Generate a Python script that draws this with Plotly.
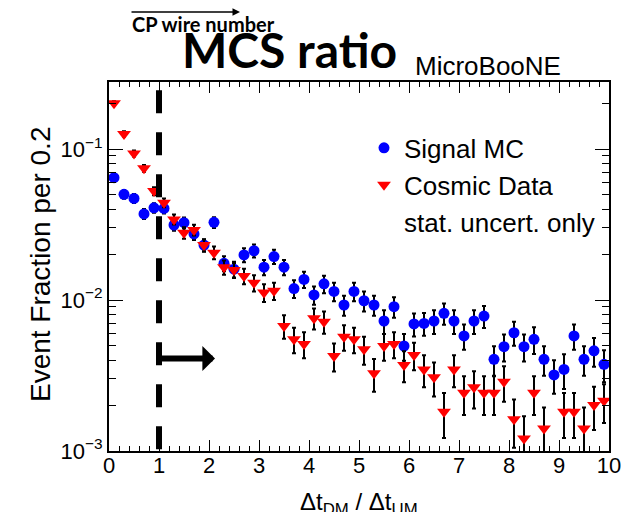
import math
import plotly.graph_objects as go

# ---------------- data ----------------
bin_centers = [0.1, 0.3, 0.5, 0.7, 0.9, 1.1, 1.3, 1.5, 1.7, 1.9,
               2.1, 2.3, 2.5, 2.7, 2.9, 3.1, 3.3, 3.5, 3.7, 3.9,
               4.1, 4.3, 4.5, 4.7, 4.9, 5.1, 5.3, 5.5, 5.7, 5.9,
               6.1, 6.3, 6.5, 6.7, 6.9, 7.1, 7.3, 7.5, 7.7, 7.9,
               8.1, 8.3, 8.5, 8.7, 8.9, 9.1, 9.3, 9.5, 9.7, 9.9]

signal_mc = [0.0646, 0.0501, 0.0471, 0.0372, 0.0408, 0.0404, 0.0314, 0.0325, 0.0274, 0.0231,
             0.0327, 0.0175, 0.0160, 0.0199, 0.0212, 0.0165, 0.0194, 0.0165, 0.0119, 0.0137,
             0.0108, 0.0128, 0.0114, 0.00927, 0.0114, 0.00989, 0.00927, 0.00726, 0.00904, 0.00496,
             0.00694, 0.00700, 0.00726, 0.00817, 0.00726, 0.00578, 0.00726, 0.00783, 0.00405, 0.00491,
             0.00607, 0.00491, 0.00549, 0.00405, 0.00319, 0.00347, 0.00578, 0.00405, 0.00461, 0.00375]
signal_err = [0.0037, 0.0033, 0.0032, 0.0028, 0.0030, 0.0030, 0.0026, 0.0027, 0.0024, 0.0022,
              0.0027, 0.0020, 0.0019, 0.0021, 0.0021, 0.0019, 0.0021, 0.0019, 0.0016, 0.0017,
              0.0015, 0.0017, 0.0016, 0.0014, 0.0016, 0.0015, 0.0014, 0.0013, 0.0014, 0.0010,
              0.0012, 0.0012, 0.0013, 0.0013, 0.0013, 0.0011, 0.0013, 0.0013, 0.0009, 0.0010,
              0.0011, 0.0010, 0.0011, 0.0009, 0.0008, 0.0009, 0.0011, 0.0009, 0.0010, 0.0009]

cosmic_data = [0.201, 0.126, 0.0935, 0.0745, 0.0527, 0.0441, 0.0342, 0.0279, 0.0291, 0.0231,
               0.0206, 0.0165, 0.0158, 0.0144, 0.0130, 0.0112, 0.0115, 0.00673, 0.00549, 0.00512,
               0.00757, 0.00718, 0.00426, 0.00571, 0.00549, 0.00472, 0.00327, 0.00496, 0.00512, 0.00371,
               0.00432, 0.00347, 0.00308, 0.00182, 0.00347, 0.00243, 0.00264, 0.00243, 0.00243, 0.00288,
               0.00162, 0.00121, 0.00243, 0.00141, None, 0.00182, 0.00182, 0.00141, 0.00202, 0.00215]
cosmic_err = [0.0063, 0.0050, 0.0043, 0.0039, 0.0032, 0.0030, 0.0026, 0.0024, 0.0024, 0.0021,
              0.0020, 0.0018, 0.0018, 0.0017, 0.0016, 0.0015, 0.0015, 0.0012, 0.00105, 0.0010,
              0.0012, 0.0012, 0.0009, 0.0011, 0.00105, 0.0010, 0.0008, 0.0010, 0.0010, 0.00086,
              0.0009, 0.00083, 0.00078, 0.0006, 0.00083, 0.0007, 0.00073, 0.0007, 0.0007, 0.00076,
              0.00057, 0.00049, 0.0007, 0.00053, 0.0, 0.0006, 0.0006, 0.00053, 0.00064, 0.00062]

x_ticks = [0, 1, 2, 3, 4, 5, 6, 7, 8, 9, 10]
x_minor = [round(0.2 * i, 1) for i in range(51)]
y_ticks = [1e-3, 1e-2, 1e-1]
y_ticktext = ["10<sup>\u22123</sup>", "10<sup>\u22122</sup>", "10<sup>\u22121</sup>"]
y_minor = [m * d for d in (1e-3, 1e-2, 1e-1) for m in range(2, 10) if m * d < 0.28]

cut_value = 1.0
arrow_y = 0.0041
arrow_end = 2.12

FONT = "Liberation Sans, Arial, Helvetica, sans-serif"

fig = go.Figure()

fig.add_trace(go.Scatter(
    x=bin_centers, y=signal_mc, mode="markers", name="Signal MC",
    legendgroup="a",
    marker=dict(symbol="circle", size=11, color="#0000ff"),
    error_y=dict(type="data", array=signal_err, symmetric=True,
                 color="black", thickness=2, width=2),
))
fig.add_trace(go.Scatter(
    x=bin_centers, y=cosmic_data, mode="markers", name="Cosmic Data",
    legendgroup="b",
    marker=dict(symbol="triangle-down", size=12, color="#ff0000"),
    error_y=dict(type="data", array=cosmic_err, symmetric=True,
                 color="black", thickness=2, width=2),
))
fig.add_trace(go.Scatter(
    x=[None], y=[None], mode="markers", name="stat. uncert. only",
    legendgroup="c",
    marker=dict(size=10, color="rgba(0,0,0,0)"),
))

# dashed cut line
fig.add_trace(go.Scatter(
    x=[cut_value, cut_value], y=[0.245, 1e-3], mode="lines", showlegend=False,
    line=dict(color="black", width=6, dash="23px,19px"), hoverinfo="skip",
))

fig.update_layout(
    width=633, height=512,
    margin=dict(l=109, r=24, t=82, b=61),
    paper_bgcolor="white", plot_bgcolor="white",
    font=dict(family=FONT, color="black"),
    showlegend=True,
    legend=dict(x=0.51, y=0.885, xanchor="left", yanchor="top",
                bgcolor="rgba(0,0,0,0)", font=dict(size=26, family=FONT),
                tracegroupgap=0, itemsizing="trace"),
    xaxis=dict(range=[0, 10], showline=True, linecolor="black", linewidth=2,
               mirror="allticks", ticks="inside", ticklen=11, tickwidth=1,
               tickcolor="black", tickvals=x_ticks, showgrid=False, zeroline=False,
               tickfont=dict(size=22, family=FONT), ticklabelstandoff=-6,
               minor=dict(tickvals=x_minor, ticks="inside", ticklen=5,
                          tickwidth=1, tickcolor="black", showgrid=False)),
    yaxis=dict(type="log", range=[-3, -0.556], showline=True, linecolor="black",
               linewidth=2, mirror="allticks", ticks="inside", ticklen=14,
               tickwidth=1, tickcolor="black", tickvals=y_ticks, ticktext=y_ticktext,
               showgrid=False, zeroline=False,
               tickfont=dict(size=22, family=FONT),
               minor=dict(tickvals=y_minor, ticks="inside", ticklen=7,
                          tickwidth=1, tickcolor="black", showgrid=False)),
)

annotations = [
    # arrow showing selected region
    dict(x=arrow_end, y=math.log10(arrow_y), ax=cut_value, ay=math.log10(arrow_y),
         xref="x", yref="y", axref="x", ayref="y", text="", showarrow=True,
         arrowhead=1, arrowsize=0.7, arrowwidth=6, arrowcolor="black", standoff=0),
    dict(text="<b>MCS ratio</b>", x=0.36, y=1.087, xref="paper", yref="paper",
         showarrow=False, font=dict(family="Lato, sans-serif", size=48, color="black"),
         xanchor="center", yanchor="middle"),
    dict(text="MicroBooNE", x=0.758, y=1.043, xref="paper", yref="paper",
         showarrow=False, font=dict(family=FONT, size=26, color="black"),
         xanchor="center", yanchor="middle"),
    dict(text="<b>CP wire number</b>", x=0.188, y=1.157, xref="paper", yref="paper",
         showarrow=False, font=dict(family="Lato, sans-serif", size=20, color="black"),
         xanchor="center", yanchor="middle"),
    dict(x=(240 - 109) / 500, y=(451 - 12) / 369, xref="paper", yref="paper",
         ax=-110, ay=0, text="", showarrow=True, arrowhead=2, arrowsize=1,
         arrowwidth=1.5, arrowcolor="black", standoff=0),
    dict(text="Event Fraction per 0.2", x=-0.138, y=0.504, xref="paper", yref="paper",
         showarrow=False, textangle=-90, font=dict(family=FONT, size=28, color="black"),
         xanchor="center", yanchor="middle"),
    dict(text="\u0394t<sub>DM</sub> / \u0394t<sub>UM</sub>", x=0.5, y=-0.142,
         xref="paper", yref="paper", showarrow=False,
         font=dict(family=FONT, size=24, color="black"),
         xanchor="center", yanchor="middle"),
]
fig.update_layout(annotations=annotations)

fig.write_html(
    "out.html",
    config={"displayModeBar": False},
    post_script="document.body.style.margin='0';document.body.style.overflow='hidden';",
)
